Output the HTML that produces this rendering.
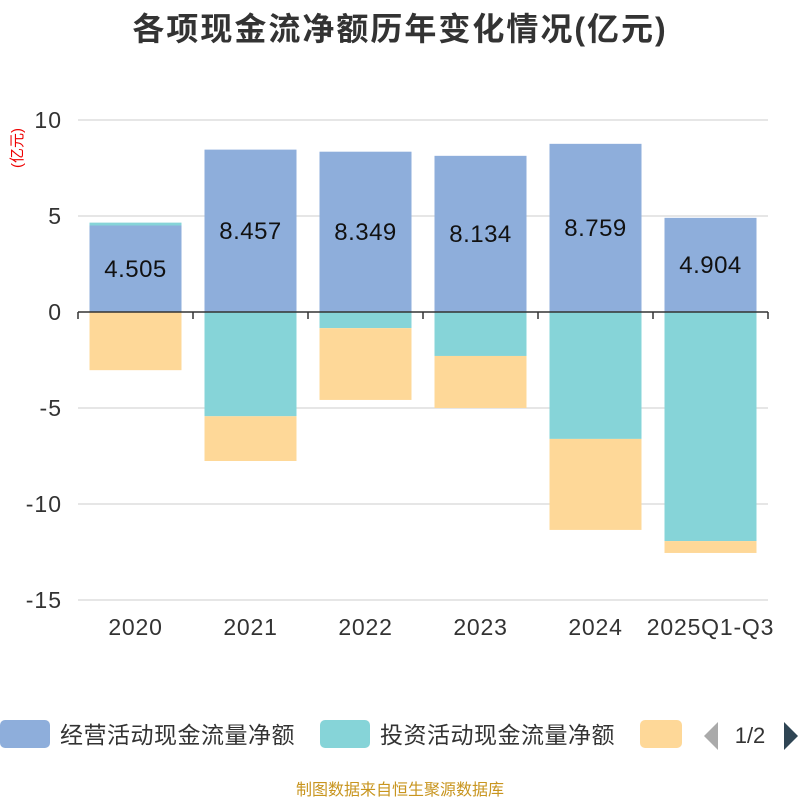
<!DOCTYPE html>
<html><head><meta charset="utf-8"><style>
body{margin:0;background:#fff;}
svg{display:block;font-family:"Liberation Sans","Noto Sans CJK SC",sans-serif;}
</style></head><body>
<svg id="c" width="800" height="800">
<text x="400" y="40" text-anchor="middle" font-size="32" font-weight="bold" letter-spacing="2" fill="#333">各项现金流净额历年变化情况(亿元)</text>
<text transform="translate(22,148) rotate(-90)" text-anchor="middle" font-size="15" fill="#e00">(亿元)</text>
<g id="grid"></g><g id="bars"></g><g id="axis"></g>
<g>
<rect x="0" y="720" width="50" height="28" rx="5" fill="#8eaedb"/>
<text x="60" y="743" font-size="23" letter-spacing="0.5" fill="#333">经营活动现金流量净额</text>
<rect x="320" y="720" width="50" height="28" rx="5" fill="#86d4d8"/>
<text x="380" y="743" font-size="23" letter-spacing="0.5" fill="#333">投资活动现金流量净额</text>
<rect x="640" y="720" width="42" height="28" rx="5" fill="#fed898"/>
<path d="M718 722 L704 736 L718 750 Z" fill="#aaa"/>
<text x="750" y="743" text-anchor="middle" font-size="22" fill="#333">1/2</text>
<path d="M784 722 L798 736 L784 750 Z" fill="#2f4554"/>
</g>
<text x="400" y="795" text-anchor="middle" font-size="16" fill="#c8951f">制图数据来自恒生聚源数据库</text>
</svg>
<script>
const categories=["2020","2021","2022","2023","2024","2025Q1-Q3"];
const operating=[4.505,8.457,8.349,8.134,8.759,4.904];
const investing=[0.15,-5.43,-0.84,-2.29,-6.61,-11.93];
const financing=[-3.03,-2.33,-3.74,-2.71,-4.74,-0.62];
const yTicks=[10,5,0,-5,-10,-15];
const NS="http://www.w3.org/2000/svg";
const x0=78,x1=768,band=(x1-x0)/categories.length,bw=92;
const y=v=>312-v*19.2;
function mk(tag,attrs,parent){const e=document.createElementNS(NS,tag);for(const k in attrs)e.setAttribute(k,attrs[k]);parent.appendChild(e);return e;}
const grid=document.getElementById('grid'),bars=document.getElementById('bars'),axis=document.getElementById('axis');
yTicks.forEach(t=>{
 const l=mk('line',{x1:x0,x2:x1,y1:y(t),y2:y(t),stroke:'#ccc','stroke-width':1},grid);
 
 
 const tx=mk('text',{x:62,y:y(t)+8,'text-anchor':'end','font-size':23,'letter-spacing':1,fill:'#333'},grid);
 tx.textContent=t;
 
 
});
const al=mk('line',{x1:x0,x2:x1,y1:y(0),y2:y(0),stroke:'#333','stroke-width':1.5},axis);


for(let i=0;i<=categories.length;i++){
 const tk=mk('line',{x1:x0+i*band,x2:x0+i*band,y1:y(0),y2:y(0)+7,stroke:'#333','stroke-width':1.5},axis);
 
 
}
function seg(cx,a,b,color,name){
 const top=Math.min(y(a),y(b)),h=Math.abs(y(a)-y(b));
 const r=mk('rect',{x:cx-bw/2,y:top,width:bw,height:h,fill:color},bars);
 
 
}
categories.forEach((c,i)=>{
 const cx=x0+band*(i+0.5);
 let pos=0,neg=0;
 [[operating[i],'#8eaedb','bar-operating'],[investing[i],'#86d4d8','bar-investing'],[financing[i],'#fed898','bar-financing']].forEach(([v,col,n])=>{
  if(v>=0){seg(cx,pos,pos+v,col,n+'-'+c);pos+=v;}else{seg(cx,neg,neg+v,col,n+'-'+c);neg+=v;}
 });
 const lb=mk('text',{x:cx,y:y(operating[i]/2)+8,'text-anchor':'middle','font-size':24,'letter-spacing':0.5,fill:'#111'},bars);
 lb.textContent=operating[i].toFixed(3);
 
 
 const xl=mk('text',{x:cx,y:635,'text-anchor':'middle','font-size':23,'letter-spacing':0.8,fill:'#333'},axis);
 xl.textContent=c;
 
 
});
</script>
</body></html>
